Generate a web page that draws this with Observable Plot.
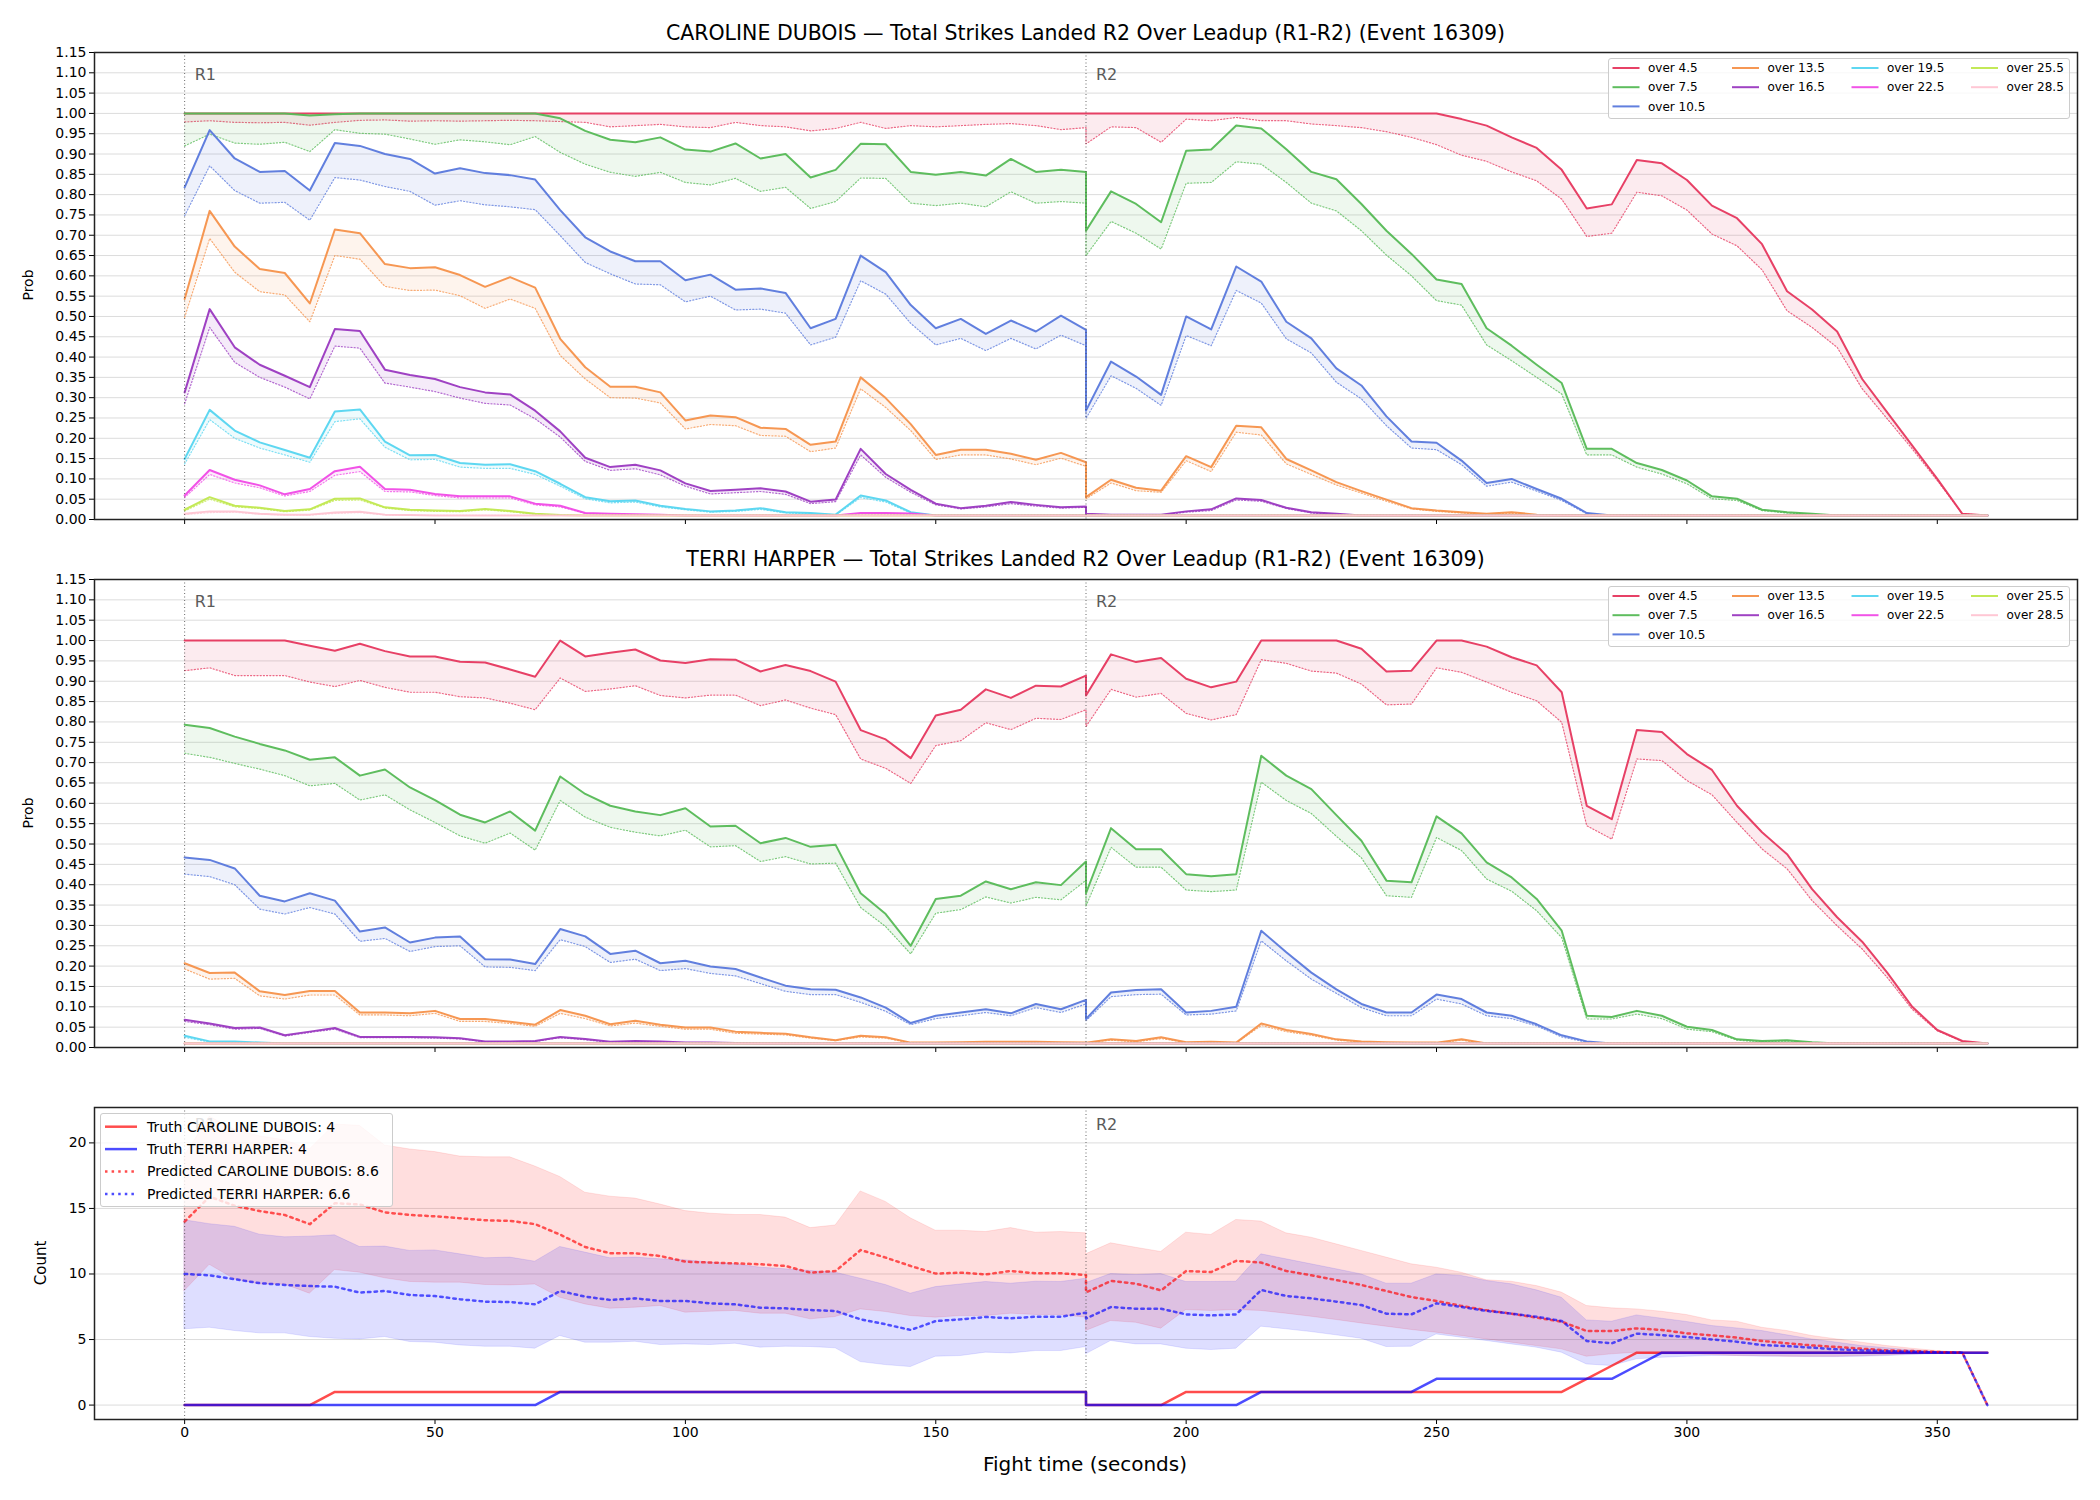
<!DOCTYPE html>
<html>
<head>
<meta charset="utf-8">
<script src="https://cdn.jsdelivr.net/npm/d3@7"></script>
<script src="https://cdn.jsdelivr.net/npm/@observablehq/plot@0.6"></script>
<style>
  body { margin: 0; background: #fff; }
  #fig { position: relative; width: 2100px; height: 1500px; background: #fff; overflow: hidden;
         font-family: "DejaVu Sans", sans-serif; color: #000; }
  #fig svg.panel { position: absolute; left: 0; }
  .title { position: absolute; left: 94px; width: 1983px; text-align: center; font-size: 20.5px; line-height: 1; }
  .ylab { position: absolute; white-space: nowrap; font-size: 14px; line-height: 1;
          transform: translate(-50%, -50%) rotate(-90deg); }
  .xlab { position: absolute; left: 1085px; top: 1464px; transform: translate(-50%, -50%);
          font-size: 20px; white-space: nowrap; line-height: 1; }
</style>
</head>
<body>
<div id="fig"></div>
<script>
// ---------------------------------------------------------------------------
// Sample grid: every 5 s in round 1 (0-180) and round 2 (180-360).
// Each series holds 37 round-1 values followed by 37 round-2 values.
// ---------------------------------------------------------------------------
const TIMES = [...d3.range(0, 181, 5), ...d3.range(180, 361, 5)];
const X_TICKS = [0, 50, 100, 150, 200, 250, 300, 350];
const PROB_TICKS = d3.range(0, 24).map(i => +(i * 0.05).toFixed(2));
const COUNT_TICKS = [0, 5, 10, 15, 20];
const ROUNDS = [{t: 0, label: "R1"}, {t: 180, label: "R2"}];

const THRESHOLDS = ["over 4.5", "over 7.5", "over 10.5", "over 13.5", "over 16.5",
                    "over 19.5", "over 22.5", "over 25.5", "over 28.5"];
const COLORS = ["#e6375e", "#55b955", "#5878dc", "#f5914a", "#9a38c0",
                "#55d5f0", "#f04ae6", "#c0e84e", "#ffc4d2"];

// the model's lower clip, one half-fight long
const FLOOR37 = [
  0.01,0.01,0.01,0.01,0.01,0.01,0.01,0.01,0.01,0.01,
  0.01,0.01,0.01,0.01,0.01,0.01,0.01,0.01,0.01,0.01,
  0.01,0.01,0.01,0.01,0.01,0.01,0.01,0.01,0.01,0.01,
  0.01,0.01,0.01,0.01,0.01,0.01,0.01];

// ---------------------------- CAROLINE DUBOIS ------------------------------
// live probability (solid) and baseline probability (dotted) per threshold
const dub_o45 = [
  1,1,1,1,1,1,1,1,1,1, 1,1,1,1,1,1,1,1,1,1, 1,1,1,1,1,1,1,1,1,1, 1,1,1,1,1,1,1,
  1,1,1,1,1,1,1,1,1,1, 1,1,1,1,1,0.986,0.970,0.941,0.915,0.861,
  0.766,0.776,0.885,0.877,0.836,0.773,0.742,0.678,0.562,0.517, 0.463,0.346,0.264,0.182,0.100,0.014,0.010];
const dub_o45_base = [
  0.979,0.982,0.978,0.977,0.978,0.971,0.978,0.983,0.984,0.981, 0.982,0.981,0.982,0.983,0.982,0.980,0.978,0.967,0.970,0.973,
  0.967,0.965,0.978,0.970,0.967,0.957,0.963,0.978,0.963,0.970, 0.967,0.970,0.973,0.975,0.970,0.960,0.965,
  0.925,0.967,0.965,0.929,0.986,0.982,0.990,0.982,0.982,0.974, 0.970,0.965,0.955,0.941,0.923,0.897,0.882,0.856,0.834,0.789,
  0.697,0.705,0.806,0.797,0.762,0.703,0.674,0.615,0.514,0.473, 0.424,0.322,0.248,0.174,0.096,0.014,0.010];
const dub_o75 = [
  1,1,1,1,1,0.995,0.998,1,1,1, 1,1,1,1,1,0.988,0.957,0.935,0.929,0.941,
  0.911,0.906,0.926,0.889,0.900,0.842,0.861,0.925,0.924,0.856, 0.849,0.856,0.847,0.888,0.856,0.861,0.856,
  0.711,0.808,0.777,0.732,0.908,0.911,0.970,0.963,0.912,0.856, 0.838,0.777,0.711,0.654,0.591,0.580,0.471,0.428,0.381,0.336,
  0.174,0.174,0.139,0.122,0.096,0.057,0.051,0.024,0.018,0.014, 0.01,0.01,0.01,0.01,0.01,0.01,0.01];
const dub_o75_base = [
  0.920,0.949,0.927,0.924,0.929,0.906,0.960,0.951,0.949,0.937, 0.924,0.935,0.930,0.923,0.943,0.904,0.875,0.855,0.845,0.855,
  0.830,0.824,0.840,0.808,0.818,0.766,0.783,0.841,0.840,0.779, 0.773,0.779,0.770,0.807,0.779,0.783,0.779,
  0.650,0.734,0.705,0.666,0.828,0.830,0.881,0.875,0.830,0.779, 0.760,0.711,0.651,0.600,0.539,0.528,0.430,0.391,0.350,0.309,
  0.159,0.159,0.129,0.112,0.088,0.051,0.047,0.022,0.016,0.013, 0.01,0.01,0.01,0.01,0.01,0.01,0.01];
const dub_o105 = [
  0.818,0.959,0.889,0.856,0.858,0.810,0.927,0.920,0.900,0.888, 0.852,0.865,0.853,0.848,0.837,0.762,0.695,0.660,0.636,0.636,
  0.589,0.603,0.566,0.569,0.558,0.471,0.494,0.650,0.609,0.528, 0.471,0.494,0.457,0.490,0.463,0.502,0.467,
  0.268,0.389,0.352,0.307,0.500,0.468,0.623,0.586,0.487,0.446, 0.372,0.330,0.254,0.192,0.189,0.145,0.090,0.100,0.075,0.051,
  0.016,0.01,0.01,0.01,0.01,0.01,0.01,0.01,0.01,0.01, 0.01,0.01,0.01,0.01,0.01,0.01,0.01];
const dub_o105_base = [
  0.748,0.871,0.810,0.779,0.781,0.737,0.842,0.836,0.820,0.808, 0.774,0.785,0.775,0.770,0.763,0.699,0.633,0.605,0.580,0.578,
  0.536,0.550,0.516,0.518,0.508,0.430,0.449,0.588,0.555,0.483, 0.430,0.446,0.416,0.446,0.420,0.454,0.428,
  0.249,0.354,0.323,0.281,0.453,0.428,0.564,0.533,0.445,0.410, 0.338,0.297,0.231,0.176,0.172,0.135,0.082,0.092,0.070,0.047,
  0.014,0.01,0.01,0.01,0.01,0.01,0.01,0.01,0.01,0.01, 0.01,0.01,0.01,0.01,0.01,0.01,0.01];
const dub_o135 = [
  0.543,0.760,0.672,0.617,0.607,0.532,0.714,0.705,0.629,0.619, 0.621,0.602,0.573,0.597,0.571,0.445,0.375,0.327,0.327,0.313,
  0.244,0.256,0.252,0.226,0.223,0.184,0.192,0.350,0.299,0.235, 0.159,0.172,0.172,0.162,0.147,0.164,0.141,
  0.055,0.098,0.078,0.071,0.156,0.129,0.231,0.227,0.149,0.121, 0.092,0.070,0.049,0.028,0.022,0.018,0.014,0.018,0.012,0.01,
  0.01,0.01,0.01,0.01,0.01,0.01,0.01,0.01,0.01,0.01, 0.01,0.01,0.01,0.01,0.01,0.01,0.01];
const dub_o135_base = [
  0.498,0.692,0.609,0.561,0.553,0.487,0.650,0.641,0.574,0.564, 0.565,0.551,0.520,0.543,0.520,0.404,0.346,0.300,0.299,0.287,
  0.223,0.234,0.231,0.207,0.205,0.167,0.176,0.322,0.276,0.219, 0.148,0.159,0.159,0.149,0.135,0.151,0.131,
  0.051,0.090,0.071,0.067,0.145,0.118,0.215,0.208,0.137,0.111, 0.085,0.065,0.045,0.026,0.020,0.016,0.013,0.015,0.011,0.01,
  0.01,0.01,0.01,0.01,0.01,0.01,0.01,0.01,0.01,0.01, 0.01,0.01,0.01,0.01,0.01,0.01,0.01];
const dub_o165 = [
  0.313,0.518,0.424,0.381,0.354,0.326,0.469,0.464,0.369,0.356, 0.346,0.326,0.313,0.308,0.268,0.217,0.152,0.129,0.135,0.121,
  0.089,0.070,0.073,0.077,0.069,0.044,0.049,0.174,0.112,0.073, 0.039,0.028,0.034,0.043,0.036,0.030,0.032,
  0.014,0.012,0.012,0.012,0.020,0.025,0.052,0.048,0.029,0.018, 0.014,0.01,0.01,0.01,0.01,0.01,0.01,0.01,0.01,0.01,
  0.01,0.01,0.01,0.01,0.01,0.01,0.01,0.01,0.01,0.01, 0.01,0.01,0.01,0.01,0.01,0.01,0.01];
const dub_o165_base = [
  0.285,0.473,0.387,0.350,0.326,0.297,0.427,0.422,0.336,0.326, 0.315,0.299,0.286,0.282,0.248,0.203,0.143,0.121,0.125,0.110,
  0.082,0.063,0.066,0.069,0.062,0.039,0.044,0.159,0.104,0.067, 0.036,0.026,0.031,0.039,0.033,0.028,0.030,
  0.012,0.011,0.011,0.011,0.018,0.022,0.048,0.045,0.027,0.016, 0.012,0.01,0.01,0.01,0.01,0.01,0.01,0.01,0.01,0.01,
  0.01,0.01,0.01,0.01,0.01,0.01,0.01,0.01,0.01,0.01, 0.01,0.01,0.01,0.01,0.01,0.01,0.01];
const dub_o195 = [
  0.149,0.270,0.219,0.190,0.171,0.152,0.266,0.271,0.192,0.158, 0.159,0.139,0.135,0.136,0.119,0.088,0.055,0.045,0.047,0.034,
  0.026,0.020,0.022,0.028,0.018,0.016,0.012,0.059,0.047,0.018, 0.01,0.01,0.01,0.01,0.01,0.01,0.01,
  ...FLOOR37];
const dub_o195_base = [
  0.137,0.246,0.200,0.176,0.159,0.141,0.241,0.248,0.178,0.147, 0.148,0.129,0.126,0.126,0.111,0.082,0.051,0.041,0.043,0.031,
  0.024,0.018,0.020,0.025,0.016,0.014,0.011,0.054,0.043,0.016, 0.01,0.01,0.01,0.01,0.01,0.01,0.01,
  ...FLOOR37];
const dub_o225 = [
  0.059,0.122,0.098,0.084,0.062,0.075,0.119,0.130,0.075,0.073, 0.063,0.057,0.057,0.057,0.039,0.034,0.016,0.014,0.013,0.012,
  0.01,0.01,0.01,0.01,0.01,0.01,0.01,0.016,0.016,0.015, 0.01,0.01,0.01,0.01,0.01,0.01,0.01,
  ...FLOOR37];
const dub_o225_base = [
  0.054,0.111,0.090,0.078,0.058,0.069,0.109,0.118,0.069,0.068, 0.059,0.053,0.053,0.053,0.036,0.031,0.015,0.013,0.012,0.011,
  0.01,0.01,0.01,0.01,0.01,0.01,0.01,0.014,0.014,0.013, 0.01,0.01,0.01,0.01,0.01,0.01,0.01,
  ...FLOOR37];
const dub_o255 = [
  0.024,0.055,0.034,0.029,0.021,0.025,0.051,0.052,0.030,0.024, 0.022,0.021,0.026,0.021,0.014,0.011,0.01,0.01,0.01,0.01,
  0.01,0.01,0.01,0.01,0.01,0.01,0.01,0.01,0.01,0.01, 0.01,0.01,0.01,0.01,0.01,0.01,0.01,
  ...FLOOR37];
const dub_o255_base = [
  0.021,0.050,0.031,0.027,0.019,0.023,0.047,0.048,0.028,0.022, 0.020,0.019,0.024,0.019,0.013,0.011,0.01,0.01,0.01,0.01,
  0.01,0.01,0.01,0.01,0.01,0.01,0.01,0.01,0.01,0.01, 0.01,0.01,0.01,0.01,0.01,0.01,0.01,
  ...FLOOR37];
const dub_o285 = [
  0.014,0.020,0.020,0.014,0.012,0.012,0.017,0.019,0.012,0.011, 0.01,0.01,0.01,0.01,0.01,0.01,0.01,0.01,0.01,0.01,
  0.01,0.01,0.01,0.01,0.01,0.01,0.01,0.01,0.01,0.01, 0.01,0.01,0.01,0.01,0.01,0.01,0.01,
  ...FLOOR37];
const dub_o285_base = [
  0.012,0.017,0.018,0.013,0.011,0.011,0.015,0.017,0.011,0.010, 0.01,0.01,0.01,0.01,0.01,0.01,0.01,0.01,0.01,0.01,
  0.01,0.01,0.01,0.01,0.01,0.01,0.01,0.01,0.01,0.01, 0.01,0.01,0.01,0.01,0.01,0.01,0.01,
  ...FLOOR37];

// ------------------------------ TERRI HARPER -------------------------------
const har_o45 = [
  1,1,1,1,1,0.987,0.975,0.992,0.974,0.961, 0.961,0.948,0.946,0.929,0.911,1,0.961,0.970,0.978,0.951,
  0.945,0.954,0.953,0.924,0.940,0.925,0.899,0.780,0.757,0.711, 0.816,0.830,0.880,0.859,0.889,0.887,0.914,
  0.865,0.966,0.947,0.957,0.906,0.885,0.899,1,1,1, 1,0.980,0.924,0.926,1,1,0.985,0.959,0.939,0.873,
  0.594,0.561,0.780,0.775,0.721,0.682,0.594,0.529,0.475,0.389, 0.320,0.260,0.184,0.100,0.043,0.016,0.010];
const har_o45_base = [
  0.926,0.933,0.914,0.914,0.914,0.898,0.887,0.902,0.885,0.873, 0.873,0.862,0.859,0.846,0.830,0.908,0.875,0.881,0.889,0.865,
  0.859,0.866,0.866,0.840,0.854,0.834,0.818,0.709,0.686,0.649, 0.742,0.754,0.798,0.781,0.809,0.806,0.830,
  0.789,0.880,0.861,0.870,0.821,0.805,0.818,0.953,0.944,0.925, 0.920,0.893,0.842,0.844,0.933,0.922,0.898,0.873,0.852,0.799,
  0.545,0.512,0.709,0.705,0.656,0.621,0.553,0.488,0.439,0.361, 0.299,0.242,0.172,0.094,0.041,0.015,0.010];
const har_o75 = [
  0.793,0.785,0.764,0.746,0.730,0.707,0.713,0.668,0.683,0.639, 0.608,0.572,0.553,0.580,0.533,0.666,0.623,0.594,0.580,0.571,
  0.588,0.543,0.545,0.502,0.515,0.493,0.498,0.379,0.328,0.250, 0.365,0.373,0.408,0.389,0.406,0.399,0.457,
  0.379,0.539,0.487,0.487,0.426,0.421,0.426,0.717,0.668,0.635, 0.571,0.508,0.410,0.406,0.568,0.526,0.455,0.418,0.365,0.287,
  0.078,0.075,0.090,0.078,0.051,0.043,0.020,0.016,0.018,0.013, 0.01,0.01,0.01,0.01,0.01,0.01,0.01];
const har_o75_base = [
  0.723,0.713,0.698,0.684,0.668,0.643,0.649,0.608,0.621,0.584, 0.553,0.520,0.502,0.527,0.485,0.607,0.566,0.541,0.529,0.520,
  0.534,0.493,0.496,0.457,0.469,0.451,0.453,0.344,0.297,0.230, 0.330,0.339,0.370,0.355,0.369,0.363,0.411,
  0.348,0.492,0.443,0.443,0.387,0.383,0.387,0.652,0.607,0.575, 0.519,0.466,0.373,0.369,0.516,0.484,0.414,0.384,0.336,0.270,
  0.070,0.070,0.082,0.071,0.045,0.039,0.018,0.014,0.016,0.012, 0.01,0.01,0.01,0.01,0.01,0.01,0.01];
const har_o105 = [
  0.467,0.461,0.440,0.373,0.359,0.379,0.361,0.285,0.295,0.258, 0.270,0.273,0.217,0.216,0.205,0.291,0.273,0.230,0.238,0.207,
  0.213,0.199,0.193,0.172,0.152,0.143,0.142,0.123,0.098,0.060, 0.078,0.086,0.094,0.084,0.107,0.094,0.117,
  0.070,0.135,0.141,0.143,0.086,0.090,0.100,0.287,0.234,0.184, 0.143,0.107,0.086,0.086,0.130,0.119,0.086,0.078,0.057,0.030,
  0.015,0.01,0.01,0.01,0.01,0.01,0.01,0.01,0.01,0.01, 0.01,0.01,0.01,0.01,0.01,0.01,0.01];
const har_o105_base = [
  0.426,0.420,0.400,0.340,0.328,0.344,0.328,0.261,0.268,0.236, 0.248,0.250,0.198,0.197,0.189,0.265,0.248,0.209,0.217,0.189,
  0.194,0.182,0.176,0.157,0.138,0.130,0.130,0.111,0.089,0.056, 0.071,0.078,0.086,0.078,0.098,0.086,0.107,
  0.066,0.125,0.130,0.131,0.080,0.082,0.090,0.262,0.213,0.168, 0.133,0.098,0.078,0.078,0.119,0.107,0.078,0.071,0.053,0.026,
  0.013,0.01,0.01,0.01,0.01,0.01,0.01,0.01,0.01,0.01, 0.01,0.01,0.01,0.01,0.01,0.01,0.01];
const har_o135 = [
  0.207,0.183,0.184,0.138,0.129,0.139,0.139,0.086,0.086,0.084, 0.090,0.070,0.070,0.063,0.056,0.092,0.078,0.057,0.066,0.056,
  0.049,0.049,0.039,0.036,0.034,0.025,0.018,0.029,0.025,0.012, 0.012,0.013,0.014,0.014,0.014,0.013,0.012,
  0.012,0.020,0.016,0.025,0.013,0.014,0.012,0.059,0.043,0.033, 0.020,0.015,0.013,0.012,0.012,0.020,0.01,0.01,0.01,0.01,
  0.01,0.01,0.01,0.01,0.01,0.01,0.01,0.01,0.01,0.01, 0.01,0.01,0.01,0.01,0.01,0.01,0.01];
const har_o135_base = [
  0.193,0.168,0.170,0.127,0.119,0.129,0.129,0.080,0.080,0.078, 0.084,0.064,0.064,0.059,0.052,0.084,0.071,0.053,0.060,0.052,
  0.045,0.045,0.035,0.033,0.031,0.023,0.017,0.026,0.023,0.011, 0.011,0.012,0.012,0.012,0.012,0.011,0.011,
  0.011,0.018,0.014,0.022,0.012,0.013,0.011,0.054,0.039,0.030, 0.018,0.014,0.012,0.011,0.011,0.018,0.01,0.01,0.01,0.01,
  0.01,0.01,0.01,0.01,0.01,0.01,0.01,0.01,0.01,0.01, 0.01,0.01,0.01,0.01,0.01,0.01,0.01];
const har_o165 = [
  0.068,0.059,0.048,0.049,0.030,0.039,0.048,0.026,0.026,0.026, 0.025,0.023,0.015,0.015,0.016,0.026,0.021,0.014,0.016,0.015,
  0.012,0.012,0.011,0.01,0.01,0.01,0.01,0.01,0.01,0.01, 0.01,0.01,0.01,0.01,0.01,0.01,0.01,
  ...FLOOR37];
const har_o165_base = [
  0.064,0.056,0.045,0.047,0.028,0.037,0.045,0.024,0.024,0.024, 0.023,0.021,0.014,0.014,0.015,0.024,0.019,0.013,0.015,0.014,
  0.011,0.011,0.010,0.01,0.01,0.01,0.01,0.01,0.01,0.01, 0.01,0.01,0.01,0.01,0.01,0.01,0.01,
  ...FLOOR37];
const har_o195 = [
  0.029,0.015,0.015,0.012,0.01,0.01,0.01,0.01,0.01,0.01, 0.01,0.01,0.01,0.01,0.01,0.01,0.01,0.01,0.01,0.01,
  0.01,0.01,0.01,0.01,0.01,0.01,0.01,0.01,0.01,0.01, 0.01,0.01,0.01,0.01,0.01,0.01,0.01,
  ...FLOOR37];
const har_o195_base = [
  0.025,0.013,0.013,0.011,0.01,0.01,0.01,0.01,0.01,0.01, 0.01,0.01,0.01,0.01,0.01,0.01,0.01,0.01,0.01,0.01,
  0.01,0.01,0.01,0.01,0.01,0.01,0.01,0.01,0.01,0.01, 0.01,0.01,0.01,0.01,0.01,0.01,0.01,
  ...FLOOR37];
const har_o225 = [...FLOOR37, ...FLOOR37];
const har_o225_base = [...FLOOR37, ...FLOOR37];
const har_o255 = [...FLOOR37, ...FLOOR37];
const har_o255_base = [...FLOOR37, ...FLOOR37];
const har_o285 = [...FLOOR37, ...FLOOR37];
const har_o285_base = [...FLOOR37, ...FLOOR37];

// ------------------------------- counts -----------------------------------
const truthDubois = [
  0,0,0,0,0,0,1,1,1,1, 1,1,1,1,1,1,1,1,1,1, 1,1,1,1,1,1,1,1,1,1, 1,1,1,1,1,1,1,
  0,0,0,0,1,1,1,1,1,1, 1,1,1,1,1,1,1,1,1,1, 2,3,4,4,4,4,4,4,4,4, 4,4,4,4,4,4,4];
const truthHarper = [
  0,0,0,0,0,0,0,0,0,0, 0,0,0,0,0,1,1,1,1,1, 1,1,1,1,1,1,1,1,1,1, 1,1,1,1,1,1,1,
  0,0,0,0,0,0,0,1,1,1, 1,1,1,1,2,2,2,2,2,2, 2,2,3,4,4,4,4,4,4,4, 4,4,4,4,4,4,4];
const predDubois = [
  14.0,15.9,15.2,14.8,14.5,13.8,15.4,15.3,14.7,14.5, 14.4,14.25,14.1,14.05,13.8,13.0,12.06,11.58,11.58,11.37,
  10.94,10.87,10.81,10.74,10.61,10.1,10.23,11.83,11.25,10.61, 10.03,10.1,9.97,10.23,10.05,10.05,9.92,
  8.6,9.47,9.26,8.75,10.23,10.15,11.0,10.87,10.23,9.9, 9.54,9.16,8.7,8.24,7.94,7.56,7.23,6.97,6.67,6.36,
  5.65,5.65,5.85,5.73,5.47,5.32,5.14,4.89,4.71,4.55, 4.43,4.3,4.17,4.12,4.05,4.0,0];
const predHarper = [
  10.0,9.9,9.6,9.3,9.16,9.08,9.03,8.58,8.7,8.4, 8.32,8.07,7.89,7.86,7.68,8.7,8.27,8.02,8.14,7.94,
  7.94,7.76,7.68,7.43,7.38,7.25,7.18,6.54,6.16,5.73, 6.41,6.54,6.72,6.62,6.74,6.74,7.05,
  6.6,7.48,7.35,7.35,6.92,6.84,6.92,8.78,8.32,8.14, 7.89,7.63,6.97,6.92,7.76,7.48,7.18,6.97,6.74,6.41,
  4.89,4.71,5.45,5.34,5.19,5.01,4.83,4.58,4.5,4.38, 4.25,4.17,4.12,4.07,4.02,4.0,0];
const lowDubois = [
  8.7,10.7,9.6,9.2,9.2,8.5,10.3,10.1,9.67,9.39, 9.34,9.34,9.16,9.13,9.2,8.19,7.68,7.35,7.43,7.56,
  7.05,7.12,7.18,6.97,6.97,6.54,6.72,7.3,7.1,6.79, 6.67,6.79,6.79,6.97,6.87,6.87,6.67,
  5.65,6.41,6.28,5.83,7.25,7.18,7.25,7.18,6.97,6.74, 6.49,6.23,5.98,5.73,5.52,5.27,5.01,4.76,4.5,4.25,
  3.69,3.87,4.0,3.87,3.87,3.82,3.74,3.74,3.69,3.69, 3.69,3.74,3.79,3.87,3.92,3.97,null];
const highDubois = [
  19.0,22.0,21.0,20.5,20.2,19.5,21.4,21.3,19.8,19.5, 19.3,18.96,18.9,18.9,18.2,17.4,16.2,15.9,15.75,15.3,
  14.8,14.6,14.5,14.5,14.3,13.5,13.7,16.3,15.5,14.25, 13.3,13.3,13.2,13.5,13.15,13.2,13.1,
  11.5,12.34,12.0,11.68,13.15,12.98,14.12,14.0,13.1,12.77, 12.26,11.76,11.25,10.74,10.48,10.1,9.52,9.41,9.08,8.58,
  7.56,7.38,7.3,7.12,6.87,6.46,6.36,5.9,5.65,5.27, 5.01,4.76,4.5,4.3,4.12,4.0,null];
const lowHarper = [
  5.78,5.9,5.65,5.47,5.47,5.19,5.06,5.01,5.19,4.81, 4.76,4.55,4.45,4.45,4.3,5.27,4.76,4.76,4.83,4.58,
  4.63,4.58,4.68,4.38,4.45,4.43,4.33,3.28,3.05,2.9, 3.69,3.74,4.0,3.94,4.12,4.12,4.43,
  3.87,4.89,4.63,4.63,4.3,4.2,4.3,5.98,5.78,5.57, 5.32,5.06,4.43,4.45,5.39,5.14,4.89,4.63,4.38,4.0,
  3.1,2.98,3.49,3.61,3.69,3.74,3.74,3.69,3.69,3.66, 3.66,3.69,3.74,3.82,3.89,3.97,null];
const highHarper = [
  14.1,13.8,13.6,13.0,12.8,12.85,12.95,12.06,12.09,11.76, 11.8,11.5,11.2,11.25,10.94,12.06,11.63,11.2,11.25,11.12,
  11.04,10.87,10.74,10.48,10.36,10.23,10.1,9.64,9.16,8.5, 9.0,9.2,9.39,9.26,9.41,9.39,9.64,
  9.3,10.0,9.92,10.0,9.39,9.39,9.41,11.5,11.12,10.74, 10.36,9.97,9.26,9.26,9.97,9.85,9.47,9.21,8.75,8.19,
  6.46,6.36,6.84,6.59,6.34,6.03,5.85,5.65,5.32,5.01, 4.76,4.5,4.33,4.17,4.05,4.0,null];

const DUBOIS_MAIN = [dub_o45, dub_o75, dub_o105, dub_o135, dub_o165, dub_o195, dub_o225, dub_o255, dub_o285];
const DUBOIS_BASE = [dub_o45_base, dub_o75_base, dub_o105_base, dub_o135_base, dub_o165_base,
                     dub_o195_base, dub_o225_base, dub_o255_base, dub_o285_base];
const HARPER_MAIN = [har_o45, har_o75, har_o105, har_o135, har_o165, har_o195, har_o225, har_o255, har_o285];
const HARPER_BASE = [har_o45_base, har_o75_base, har_o105_base, har_o135_base, har_o165_base,
                     har_o195_base, har_o225_base, har_o255_base, har_o285_base];

// ---------------------------------------------------------------------------
const fig = document.getElementById("fig");
const FONT = {fontFamily: "DejaVu Sans, sans-serif", fontSize: "14px", background: "transparent", overflow: "visible"};
const X_DOMAIN = [-18, 378];
const ML = 94, MR = 23;

function placeSvg(svg, top) {
  svg.classList.add("panel");
  svg.style.top = top + "px";
  fig.appendChild(svg);
}

function probPanel(mainSet, baseSet, top, height, marginTop, marginBottom) {
  const marks = [Plot.gridY({ticks: PROB_TICKS, stroke: "#dcdcdc", strokeOpacity: 1, strokeWidth: 1})];
  mainSet.forEach((main, i) => {
    const rows = TIMES.map((t, j) => ({t, main: main[j], base: baseSet[i][j]}));
    marks.push(Plot.areaY(rows, {x: "t", y1: "base", y2: "main", fill: COLORS[i], fillOpacity: 0.1}));
    marks.push(Plot.lineY(rows, {x: "t", y: "base", stroke: COLORS[i], strokeWidth: 1.2,
                                 strokeOpacity: 0.75, strokeDasharray: "1.2,2"}));
    marks.push(Plot.lineY(rows, {x: "t", y: "main", stroke: COLORS[i], strokeWidth: 2, strokeOpacity: 0.95}));
  });
  marks.push(
    Plot.ruleX(ROUNDS, {x: "t", stroke: "#444", strokeWidth: 1, strokeOpacity: 0.8, strokeDasharray: "1,2.5"}),
    Plot.text(ROUNDS, {x: "t", y: () => 1.095, text: "label", dx: 10, textAnchor: "start",
                       fill: "#5a5a5a", fontSize: 16}),
    Plot.axisY({ticks: PROB_TICKS, tickFormat: d3.format(".2f"), tickSize: 5, tickPadding: 3, label: null}),
    Plot.axisX({ticks: X_TICKS, tickSize: 5, tickFormat: () => "", label: null}),
    Plot.frame({stroke: "#222", strokeWidth: 1.5})
  );
  const svg = Plot.plot({
    width: 2100, height, marginLeft: ML, marginRight: MR, marginTop, marginBottom,
    style: FONT,
    x: {domain: X_DOMAIN},
    y: {domain: [0, 1.15]},
    marks
  });
  placeSvg(svg, top);
}

function probLegend(top) {
  const W = 462, H = 61;
  const holder = document.createElement("div");
  holder.style.cssText = `position:absolute;left:1608px;top:${top}px;width:${W}px;height:${H}px;` +
    "background:rgba(255,255,255,0.8);border:1px solid #cccccc;border-radius:3px;box-sizing:border-box;";
  const svg = d3.create("svg").attr("width", W).attr("height", H).style("position", "absolute")
    .style("left", "-1px").style("top", "-1px");
  const place = [[0,0],[0,1],[0,2],[1,0],[1,1],[2,0],[2,1],[3,0],[3,1]];
  THRESHOLDS.forEach((name, i) => {
    const [c, r] = place[i];
    const x0 = 4.5 + c * 119.5, y0 = 10 + r * 19.2;
    svg.append("line").attr("x1", x0).attr("x2", x0 + 27).attr("y1", y0).attr("y2", y0)
      .attr("stroke", COLORS[i]).attr("stroke-width", 2).attr("stroke-opacity", 0.95);
    svg.append("text").attr("x", x0 + 35.5).attr("y", y0).attr("dy", "0.35em")
      .attr("font-family", "DejaVu Sans").attr("font-size", 12).text(name);
  });
  holder.appendChild(svg.node());
  fig.appendChild(holder);
}

function addText(cls, text, css) {
  const d = document.createElement("div");
  d.className = cls;
  d.textContent = text;
  Object.assign(d.style, css);
  fig.appendChild(d);
}

// ---------------------------- panel 1 and 2 --------------------------------
probPanel(DUBOIS_MAIN, DUBOIS_BASE, 0, 540, 52, 21);
probPanel(HARPER_MAIN, HARPER_BASE, 540, 530, 39, 23);
probLegend(58);
probLegend(586);

addText("title", "CAROLINE DUBOIS \u2014 Total Strikes Landed R2 Over Leadup (R1-R2) (Event 16309)",
        {top: "23px"});
addText("title", "TERRI HARPER \u2014 Total Strikes Landed R2 Over Leadup (R1-R2) (Event 16309)",
        {top: "549px"});
addText("ylab", "Prob", {left: "28px", top: "285px"});
addText("ylab", "Prob", {left: "28px", top: "813px"});

// -------------------------------- panel 3 ----------------------------------
const countRows = TIMES.map((t, j) => ({
  t,
  truthD: truthDubois[j], truthH: truthHarper[j],
  predD: predDubois[j], predH: predHarper[j],
  loD: lowDubois[j], hiD: highDubois[j], loH: lowHarper[j], hiH: highHarper[j]
}));
const RED = "#ff0000", BLUE = "#0000ff";

const countSvg = Plot.plot({
  width: 2100, height: 430, marginLeft: ML, marginRight: MR, marginTop: 37, marginBottom: 81,
  style: FONT,
  x: {domain: X_DOMAIN},
  y: {domain: [-1.1, 22.7]},
  marks: [
    Plot.gridY({ticks: COUNT_TICKS, stroke: "#dcdcdc", strokeOpacity: 1, strokeWidth: 1}),
    Plot.areaY(countRows, {x: "t", y1: "loD", y2: "hiD", fill: RED, fillOpacity: 0.13,
                           stroke: RED, strokeOpacity: 0.1, strokeWidth: 1}),
    Plot.areaY(countRows, {x: "t", y1: "loH", y2: "hiH", fill: BLUE, fillOpacity: 0.13,
                           stroke: BLUE, strokeOpacity: 0.1, strokeWidth: 1}),
    Plot.lineY(countRows, {x: "t", y: "truthD", stroke: RED, strokeWidth: 2.5, strokeOpacity: 0.7}),
    Plot.lineY(countRows, {x: "t", y: "truthH", stroke: BLUE, strokeWidth: 2.5, strokeOpacity: 0.7}),
    Plot.lineY(countRows, {x: "t", y: "predD", stroke: RED, strokeWidth: 2.5, strokeOpacity: 0.65,
                           strokeDasharray: "2.5,4.1"}),
    Plot.lineY(countRows, {x: "t", y: "predH", stroke: BLUE, strokeWidth: 2.5, strokeOpacity: 0.65,
                           strokeDasharray: "2.5,4.1"}),
    Plot.ruleX(ROUNDS, {x: "t", stroke: "#444", strokeWidth: 1, strokeOpacity: 0.8, strokeDasharray: "1,2.5"}),
    Plot.text(ROUNDS, {x: "t", y: () => 21.4, text: "label", dx: 10, textAnchor: "start",
                       fill: "#5a5a5a", fontSize: 16}),
    Plot.axisY({ticks: COUNT_TICKS, tickSize: 5, tickPadding: 3, label: null}),
    Plot.axisX({ticks: X_TICKS, tickSize: 5, tickPadding: 3, label: null}),
    Plot.frame({stroke: "#222", strokeWidth: 1.5})
  ]
});
placeSvg(countSvg, 1070);

// legend for the count panel, values taken from the series themselves
(function countLegend() {
  const W = 293, H = 94;
  const entries = [
    {text: `Truth CAROLINE DUBOIS: ${truthDubois[truthDubois.length - 1]}`, color: RED, dash: null},
    {text: `Truth TERRI HARPER: ${truthHarper[truthHarper.length - 1]}`, color: BLUE, dash: null},
    {text: `Predicted CAROLINE DUBOIS: ${predDubois[37]}`, color: RED, dash: "2.5,4.1"},
    {text: `Predicted TERRI HARPER: ${predHarper[37]}`, color: BLUE, dash: "2.5,4.1"}
  ];
  const holder = document.createElement("div");
  holder.style.cssText = `position:absolute;left:100px;top:1113px;width:${W}px;height:${H}px;` +
    "background:rgba(255,255,255,0.8);border:1px solid #cccccc;border-radius:3px;box-sizing:border-box;";
  const svg = d3.create("svg").attr("width", W).attr("height", H).style("position", "absolute")
    .style("left", "-1px").style("top", "-1px");
  entries.forEach((e, i) => {
    const y0 = 13.7 + i * 22.4;
    svg.append("line").attr("x1", 5).attr("x2", 37).attr("y1", y0).attr("y2", y0)
      .attr("stroke", e.color).attr("stroke-width", 2.5).attr("stroke-opacity", 0.7)
      .attr("stroke-dasharray", e.dash);
    svg.append("text").attr("x", 47).attr("y", y0).attr("dy", "0.35em")
      .attr("font-family", "DejaVu Sans").attr("font-size", 14).text(e.text);
  });
  holder.appendChild(svg.node());
  fig.appendChild(holder);
})();

addText("ylab", "Count", {left: "41px", top: "1263px", fontSize: "15px"});
addText("xlab", "Fight time (seconds)", {});

// sanity check on series lengths
[...DUBOIS_MAIN, ...DUBOIS_BASE, ...HARPER_MAIN, ...HARPER_BASE,
 truthDubois, truthHarper, predDubois, predHarper, lowDubois, highDubois, lowHarper, highHarper]
  .forEach((a, i) => { if (a.length !== TIMES.length) console.warn("series", i, "has", a.length, "values"); });
</script>
</body>
</html>
